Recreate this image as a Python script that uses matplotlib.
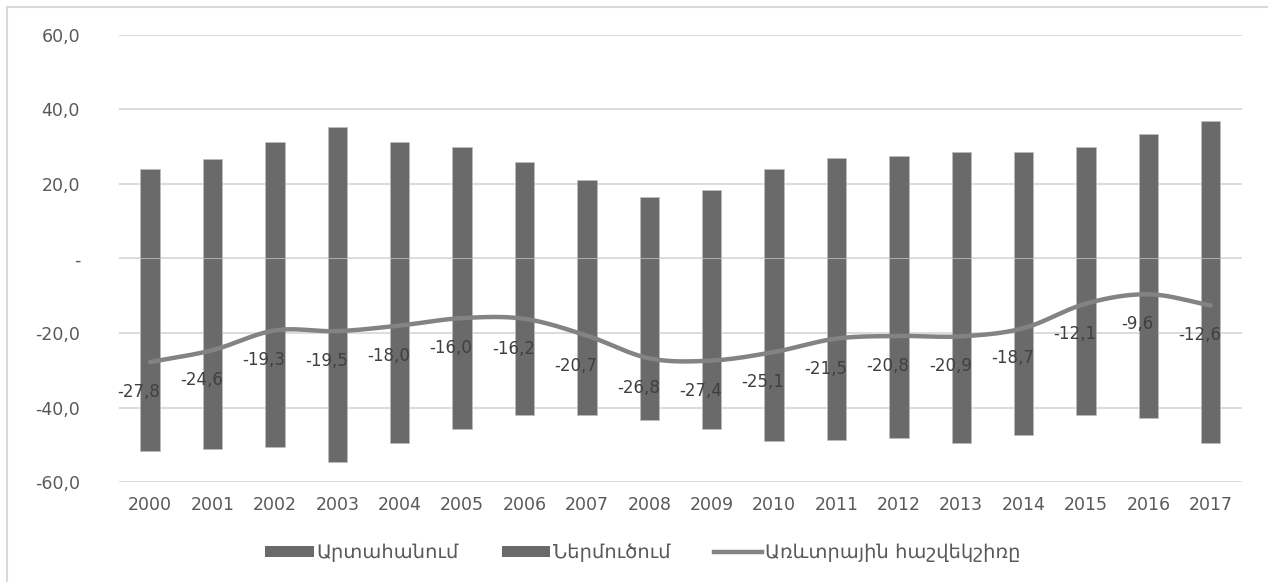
import numpy as np
import matplotlib.pyplot as plt
from matplotlib.patches import Patch
from matplotlib.lines import Line2D
from matplotlib.ticker import FuncFormatter

plt.rcParams['font.family'] = ['DejaVu Sans']

years = ['2000', '2001', '2002', '2003', '2004', '2005', '2006', '2007', '2008',
         '2009', '2010', '2011', '2012', '2013', '2014', '2015', '2016', '2017']
exports = [23.9, 26.6, 31.4, 35.2, 31.4, 29.8, 25.8, 21.2, 16.6,
           18.3, 23.9, 27.1, 27.4, 28.5, 28.7, 29.8, 33.3, 37.0]
imports = [-51.7, -51.2, -50.7, -54.7, -49.4, -45.8, -42.0, -41.9, -43.4,
           -45.7, -49.0, -48.6, -48.2, -49.4, -47.4, -41.9, -42.9, -49.6]
balance = [-27.8, -24.6, -19.3, -19.5, -18.0, -16.0, -16.2, -20.7, -26.8,
           -27.4, -25.1, -21.5, -20.8, -20.9, -18.7, -12.1, -9.6, -12.6]

labels = ['Արտահանում', 'Ներմուծում', 'Առևտրային հաշվեկշիռը']

bar_color = '#6a6a6a'
line_color = '#838383'
text_color = '#595959'
grid_color = '#d9d9d9'


def smooth(xs, ys, steps=20):
    # Catmull-Rom curve through the points, like a smoothed line in a spreadsheet
    xs = np.asarray(xs, float)
    ys = np.asarray(ys, float)
    px = np.concatenate([[2 * xs[0] - xs[1]], xs, [2 * xs[-1] - xs[-2]]])
    py = np.concatenate([[2 * ys[0] - ys[1]], ys, [2 * ys[-1] - ys[-2]]])
    out_x, out_y = [], []
    t = np.linspace(0, 1, steps, endpoint=False)
    for i in range(1, len(px) - 2):
        for p, out in ((px, out_x), (py, out_y)):
            p0, p1, p2, p3 = p[i - 1], p[i], p[i + 1], p[i + 2]
            out.extend(0.5 * (2 * p1 + (-p0 + p2) * t
                              + (2 * p0 - 5 * p1 + 4 * p2 - p3) * t ** 2
                              + (-p0 + 3 * p1 - 3 * p2 + p3) * t ** 3))
    out_x.append(xs[-1])
    out_y.append(ys[-1])
    return np.array(out_x), np.array(out_y)


fig = plt.figure(figsize=(12.68, 5.82), dpi=100)
ax = fig.add_axes([0.0938, 0.1718, 0.8857, 0.7681])

x = np.arange(len(years))
ax.bar(x, exports, width=0.31, color=bar_color, edgecolor='#bdbdbd', linewidth=0.5, zorder=2)
ax.bar(x, imports, width=0.31, color=bar_color, edgecolor='#bdbdbd', linewidth=0.5, zorder=2)

sx, sy = smooth(x, balance)
ax.plot(sx, sy, color=line_color, lw=3.2, solid_capstyle='round', zorder=3)

for xi, v in zip(x, balance):
    ax.annotate(f'{v:.1f}'.replace('.', ','), (xi, v), xytext=(-11, -30),
                textcoords='offset pixels', ha='center', va='center',
                fontsize=12, color='#404040', zorder=4)

ax.set_xlim(-0.5, len(years) - 0.5)
ax.set_ylim(-60, 60)
ax.set_yticks(np.arange(-60, 61, 20))
ax.yaxis.set_major_formatter(FuncFormatter(
    lambda v, _: '-' if v == 0 else f'{v:.1f}'.replace('.', ',')))
ax.set_xticks(x)
ax.set_xticklabels(years)
ax.tick_params(axis='y', length=0, pad=28, labelsize=12.5, labelcolor=text_color)
ax.tick_params(axis='x', length=0, pad=10, labelsize=12.5, labelcolor=text_color)
ax.grid(axis='y', color=grid_color, lw=1.3, zorder=0)
for s in ax.spines.values():
    s.set_visible(False)

handles = [Patch(facecolor=bar_color, edgecolor='none'),
           Patch(facecolor=bar_color, edgecolor='none'),
           Line2D([], [], color=line_color, lw=3.2)]
fig.legend(handles, labels, loc='center', bbox_to_anchor=(0.507, 0.05), ncol=3,
           frameon=False, fontsize=14, labelcolor=text_color,
           handlelength=2.5, handleheight=0.45, handletextpad=0.15, columnspacing=2.2)

# light frame around the chart area
fig.add_artist(Line2D([0.0055, 1.0], [0.988, 0.988], color=grid_color, lw=1.5))
fig.add_artist(Line2D([0.0055, 0.0055], [0.0, 0.988], color=grid_color, lw=1.5))

fig.savefig('out.png', dpi=100)
